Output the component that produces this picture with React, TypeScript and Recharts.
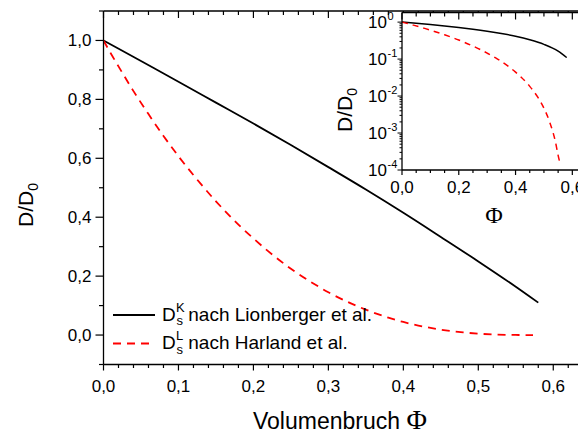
import React from 'react';
import { LineChart, Line, XAxis, YAxis, Legend, CartesianGrid } from 'recharts';

// Lionberger (D_s^K)
const phiK = [0, 0.05, 0.1, 0.15, 0.2, 0.25, 0.3, 0.35, 0.4, 0.45, 0.5, 0.55, 0.58];
const dK = [1.0, 0.93, 0.86, 0.789, 0.718, 0.645, 0.57, 0.494, 0.415, 0.333, 0.25, 0.164, 0.11];

// Harland (D_s^L)
const phiL = [0, 0.01, 0.02, 0.04, 0.06, 0.08, 0.1, 0.12, 0.15, 0.18, 0.2, 0.22, 0.25, 0.28, 0.3, 0.33, 0.35, 0.38, 0.4, 0.42, 0.45, 0.48, 0.5, 0.52, 0.54, 0.55, 0.556, 0.565, 0.573];
const dL = [1.0, 0.955, 0.912, 0.828, 0.75, 0.676, 0.607, 0.543, 0.454, 0.375, 0.328, 0.284, 0.225, 0.175, 0.145, 0.1075, 0.086, 0.059, 0.0444, 0.0323, 0.0183, 0.0089, 0.0047, 0.002, 0.0006, 0.00025, 0.00016, 0.00002, 0];

const mainXTicks = [0, 0.02, 0.04, 0.06, 0.08, 0.1, 0.12, 0.14, 0.16, 0.18, 0.2, 0.22, 0.24, 0.26, 0.28, 0.3, 0.32, 0.34, 0.36, 0.38, 0.4, 0.42, 0.44, 0.46, 0.48, 0.5, 0.52, 0.54, 0.56, 0.58, 0.6, 0.62];
const mainYTicks = [-0.1, 0, 0.1, 0.2, 0.3, 0.4, 0.5, 0.6, 0.7, 0.8, 0.9, 1.0, 1.1];
const insetXTicks = [0, 0.05, 0.1, 0.15, 0.2, 0.25, 0.3, 0.35, 0.4, 0.45, 0.5, 0.55, 0.6];
const insetDecades = [-4, -3, -2, -1, 0];
const insetMantissas = [1, 2, 3, 4, 5, 6, 7, 8, 9];

const legendLabels = [
  { sup: 'K', text: 'nach Lionberger et al.' },
  { sup: 'L', text: 'nach Harland et al.' },
];

const kData = phiK.map((p, i) => ({ phi: p, d: dK[i] }));
const lData = phiL.map((p, i) => ({ phi: p, d: dL[i] }));
const lDataLog = lData.filter((r) => r.d >= 1.5e-4);
const insetYTicks: number[] = [];
insetDecades.forEach((e) => {
  insetMantissas.forEach((m) => {
    const v = m * Math.pow(10, e);
    if (v <= 1.0000001) insetYTicks.push(v);
  });
});

const SANS = '"Liberation Sans", Arial, sans-serif';
const SERIF = '"Liberation Serif", "Times New Roman", serif';

const isMult = (v: number, step: number) => Math.abs(v / step - Math.round(v / step)) < 1e-6;
const fmt = (v: number) => v.toFixed(1).replace('.', ',');

const MainBottomTick = (p: any) => {
  const { x, y, payload } = p;
  const major = isMult(payload.value, 0.1);
  return (
    <g>
      <line x1={x} x2={x} y1={y} y2={y + (major ? 6 : 3.5)} stroke="#000" strokeWidth={1.2} />
      {major && (
        <text x={x} y={y + 27} textAnchor="middle" fontSize={17} fontFamily={SANS} fill="#000">
          {fmt(payload.value)}
        </text>
      )}
    </g>
  );
};

const TopTick = (step: number) => (p: any) => {
  const { x, y, payload } = p;
  const major = isMult(payload.value, step);
  return <line x1={x} x2={x} y1={y} y2={y + (major ? 7 : 4)} stroke="#000" strokeWidth={1.2} />;
};

const MainLeftTick = (p: any) => {
  const { x, y, payload } = p;
  const major = isMult(payload.value, 0.2);
  return (
    <g>
      <line x1={x} x2={x - (major ? 8 : 4.5)} y1={y} y2={y} stroke="#000" strokeWidth={1.2} />
      {major && (
        <text x={x - 12} y={y + 6} textAnchor="end" fontSize={17} fontFamily={SANS} fill="#000">
          {fmt(payload.value)}
        </text>
      )}
    </g>
  );
};

const InsetBottomTick = (p: any) => {
  const { x, y, payload } = p;
  const major = isMult(payload.value, 0.2);
  return (
    <g>
      <line x1={x} x2={x} y1={y} y2={y + (major ? 5 : 3)} stroke="#000" strokeWidth={1.2} />
      {major && (
        <text x={x} y={y + 23} textAnchor="middle" fontSize={17} fontFamily={SANS} fill="#000">
          {fmt(payload.value)}
        </text>
      )}
    </g>
  );
};

const InsetLeftTick = (p: any) => {
  const { x, y, payload } = p;
  const lg = Math.log10(payload.value);
  const major = Math.abs(lg - Math.round(lg)) < 1e-6;
  const e = Math.round(lg);
  return (
    <g>
      <line x1={x} x2={x - (major ? 4.5 : 2.5)} y1={y} y2={y} stroke="#000" strokeWidth={1} />
      {major && (
        <g>
          <text x={x - 15} y={y + 6} textAnchor="end" fontSize={17} fontFamily={SANS} fill="#000">10</text>
          <text x={x - 14.5} y={y - 2} textAnchor="start" fontSize={11} fontFamily={SANS} fill="#000">{String(e)}</text>
        </g>
      )}
    </g>
  );
};

const MainXLabel = () => (
  <text x={253} y={429} fontSize={23} fontFamily={SANS} fill="#000">
    Volumenbruch <tspan fontFamily={SERIF} fontSize={28}>Φ</tspan>
  </text>
);

const MainYLabel = () => (
  <text x={33} y={227} transform="rotate(-90 33 227)" fontSize={21} fontFamily={SANS} fill="#000">
    D/D<tspan fontSize={14} dy={5}>0</tspan>
  </text>
);

const InsetXLabel = () => (
  <text x={164} y={223} textAnchor="middle" fontSize={24} fontFamily={SERIF} fill="#000">Φ</text>
);

const InsetYLabel = () => (
  <text x={22} y={132} transform="rotate(-90 22 132)" fontSize={21} fontFamily={SANS} fill="#000">
    D/D<tspan fontSize={14} dy={5}>0</tspan>
  </text>
);

const LegendContent = () => (
  <svg width={320} height={70} style={{ display: 'block', overflow: 'visible' }}>
    {legendLabels.map((it, i) => {
      const oy = i * 28.5;
      return (
        <g key={i}>
          <line
            x1={8}
            x2={50}
            y1={17 + oy}
            y2={17 + oy}
            stroke={i === 0 ? '#000' : '#ff0000'}
            strokeWidth={1.8}
            strokeDasharray={i === 0 ? undefined : '8 6'}
          />
          <text x={57} y={22.5 + oy} fontSize={19} fontFamily={SANS} fill="#000">D</text>
          <text x={71} y={13.5 + oy} fontSize={13} fontFamily={SANS} fill="#000">{it.sup}</text>
          <text x={71.5} y={27 + oy} fontSize={13} fontFamily={SANS} fill="#000">s</text>
          <text x={83.3} y={22.5 + oy} fontSize={19} fontFamily={SANS} fill="#000">{it.text}</text>
        </g>
      );
    })}
  </svg>
);

export default function App() {
  return (
    <div style={{ position: 'absolute', left: 0, top: 0, width: 578, height: 435, overflow: 'hidden', background: '#fff' }}>
      <div style={{ position: 'absolute', left: 0, top: 0 }}>
        <LineChart width={578} height={435} margin={{ top: 10, right: 0, bottom: 40.5, left: 43.5 }}>
          <XAxis
            xAxisId="b"
            type="number"
            dataKey="phi"
            domain={[0, 0.633]}
            allowDataOverflow
            ticks={mainXTicks}
            interval={0}
            tickSize={0}
            tickMargin={0}
            tickLine={false}
            tick={(p: any) => <MainBottomTick {...p} />}
            axisLine={{ stroke: '#000', strokeWidth: 1.3 }}
            height={30}
            label={<MainXLabel />}
          />
          <XAxis
            xAxisId="t"
            orientation="top"
            type="number"
            dataKey="phi"
            domain={[0, 0.633]}
            allowDataOverflow
            ticks={mainXTicks}
            interval={0}
            tickSize={0}
            tickMargin={0}
            tickLine={false}
            tick={TopTick(0.1)}
            axisLine={{ stroke: '#000', strokeWidth: 1.3 }}
            height={1}
          />
          <YAxis
            yAxisId="l"
            type="number"
            domain={[-0.1, 1.1]}
            allowDataOverflow
            ticks={mainYTicks}
            interval={0}
            tickSize={0}
            tickMargin={0}
            tickLine={false}
            tick={(p: any) => <MainLeftTick {...p} />}
            axisLine={{ stroke: '#000', strokeWidth: 1.3 }}
            width={60}
            label={<MainYLabel />}
          />
          <Line
            xAxisId="b"
            yAxisId="l"
            data={kData}
            dataKey="d"
            type="monotone"
            stroke="#000"
            strokeWidth={1.8}
            dot={false}
            isAnimationActive={false}
          />
          <Line
            xAxisId="b"
            yAxisId="l"
            data={lData}
            dataKey="d"
            type="monotone"
            stroke="#ff0000"
            strokeWidth={1.8}
            strokeDasharray="8 6"
            dot={false}
            isAnimationActive={false}
          />
          <Legend
            layout="vertical"
            align="center"
            verticalAlign="middle"
            content={() => <LegendContent />}
            wrapperStyle={{ left: 105, top: 298, width: 320, height: 70 }}
          />
        </LineChart>
      </div>
      <div style={{ position: 'absolute', left: 330, top: 0 }}>
        <LineChart width={248} height={230} margin={{ top: 11.5, right: 0, bottom: 30, left: 32 }}>
          <CartesianGrid xAxisId="ib" yAxisId="il" fill="#fff" stroke="none" horizontal={false} vertical={false} />
          <XAxis
            xAxisId="ib"
            type="number"
            dataKey="phi"
            domain={[0, 0.62]}
            allowDataOverflow
            ticks={insetXTicks}
            interval={0}
            tickSize={0}
            tickMargin={0}
            tickLine={false}
            tick={(p: any) => <InsetBottomTick {...p} />}
            axisLine={{ stroke: '#000', strokeWidth: 1.3 }}
            height={30}
            label={<InsetXLabel />}
          />
          <XAxis
            xAxisId="it"
            orientation="top"
            type="number"
            dataKey="phi"
            domain={[0, 0.62]}
            allowDataOverflow
            ticks={insetXTicks}
            interval={0}
            tickSize={0}
            tickMargin={0}
            tickLine={false}
            tick={TopTick(0.2)}
            axisLine={{ stroke: '#000', strokeWidth: 1.3 }}
            height={1}
          />
          <YAxis
            yAxisId="il"
            type="number"
            scale="log"
            domain={[0.0001, 1.82]}
            allowDataOverflow
            ticks={insetYTicks}
            interval={0}
            tickSize={0}
            tickMargin={0}
            tickLine={false}
            tick={(p: any) => <InsetLeftTick {...p} />}
            axisLine={{ stroke: '#000', strokeWidth: 1.3 }}
            width={40}
            label={<InsetYLabel />}
          />
          <Line
            xAxisId="ib"
            yAxisId="il"
            data={kData}
            dataKey="d"
            type="monotone"
            stroke="#000"
            strokeWidth={1.5}
            dot={false}
            isAnimationActive={false}
          />
          <Line
            xAxisId="ib"
            yAxisId="il"
            data={lDataLog}
            dataKey="d"
            type="monotone"
            stroke="#ff0000"
            strokeWidth={1.5}
            strokeDasharray="6 5"
            dot={false}
            isAnimationActive={false}
          />
        </LineChart>
      </div>
    </div>
  );
}
